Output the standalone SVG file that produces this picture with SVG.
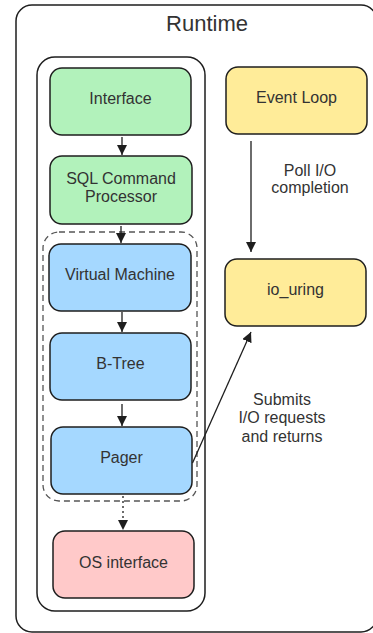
<svg xmlns="http://www.w3.org/2000/svg" width="373" height="633" viewBox="0 0 373 633">
<defs>
<marker id="ah" viewBox="0 0 10 10" refX="10" refY="5" markerWidth="10" markerHeight="10" markerUnits="userSpaceOnUse" orient="auto">
<path d="M0,0 L10,5 L0,10 z" fill="#1e1e1e"/>
</marker>
<style>
.frame{fill:#fff;stroke:#1e1e1e;stroke-width:1.5}
.node rect{stroke:#1e1e1e;stroke-width:1.5}
.green{fill:#b2f2bb}.blue{fill:#a5d8ff}.yellow{fill:#ffec99}.pink{fill:#ffc9c9}
text{font-family:"Liberation Sans",Arial,sans-serif;font-size:16px;fill:#333;text-anchor:middle}
.conn{stroke:#1e1e1e;stroke-width:1.3;fill:none}
</style>
</defs>
<rect width="373" height="633" fill="#fff"/>
<g id="runtime">
<rect class="frame" x="16" y="5" width="361" height="627" rx="16"/>
<text x="207" y="31" style="font-size:22px">Runtime</text>
</g>
<g id="engine">
<rect class="frame" x="37" y="57" width="168" height="554" rx="18"/>
</g>
<g id="vdbe-group">
<rect x="43" y="232" width="154" height="269" rx="16" fill="none" stroke="#555" stroke-width="1.3" stroke-dasharray="6,4"/>
</g>
<g id="interface" class="node">
<rect class="green" x="50" y="68" width="141" height="67" rx="12"/>
<text x="120.5" y="104">Interface</text>
</g>
<g id="sql" class="node">
<rect class="green" x="50" y="156" width="142" height="68" rx="12"/>
<text x="121" y="184">SQL Command</text>
<text x="121" y="202">Processor</text>
</g>
<g id="vm" class="node">
<rect class="blue" x="49" y="244" width="142" height="67" rx="12"/>
<text x="120" y="280">Virtual Machine</text>
</g>
<g id="btree" class="node">
<rect class="blue" x="50" y="333" width="141" height="67" rx="12"/>
<text x="120.5" y="369">B-Tree</text>
</g>
<g id="pager" class="node">
<rect class="blue" x="51" y="427" width="141" height="67" rx="12"/>
<text x="121.5" y="463">Pager</text>
</g>
<g id="os" class="node">
<rect class="pink" x="53" y="531" width="141" height="67" rx="12"/>
<text x="123.5" y="568">OS interface</text>
</g>
<g id="eventloop" class="node">
<rect class="yellow" x="226" y="67" width="141" height="67" rx="12"/>
<text x="296.5" y="103">Event Loop</text>
</g>
<g id="iouring" class="node">
<rect class="yellow" x="225" y="259" width="141" height="67" rx="12"/>
<text x="295.5" y="295">io_uring</text>
</g>
<g id="connectors">
<line class="conn" x1="122" y1="137" x2="122" y2="155" marker-end="url(#ah)"/>
<line class="conn" x1="121" y1="226" x2="121" y2="243" marker-end="url(#ah)"/>
<line class="conn" x1="122" y1="312" x2="122" y2="332" marker-end="url(#ah)"/>
<line class="conn" x1="122" y1="404" x2="122" y2="426" marker-end="url(#ah)"/>
<line class="conn" x1="123" y1="496" x2="123" y2="530" stroke-dasharray="2,3" marker-end="url(#ah)"/>
<line class="conn" x1="251" y1="141" x2="251" y2="252" marker-end="url(#ah)"/>
<line class="conn" x1="192.5" y1="463" x2="251" y2="332" marker-end="url(#ah)"/>
<text x="310" y="176">Poll I/O</text>
<text x="310" y="193">completion</text>
<text x="282" y="405">Submits</text>
<text x="282" y="423">I/O requests</text>
<text x="282" y="442">and returns</text>
</g>
</svg>
